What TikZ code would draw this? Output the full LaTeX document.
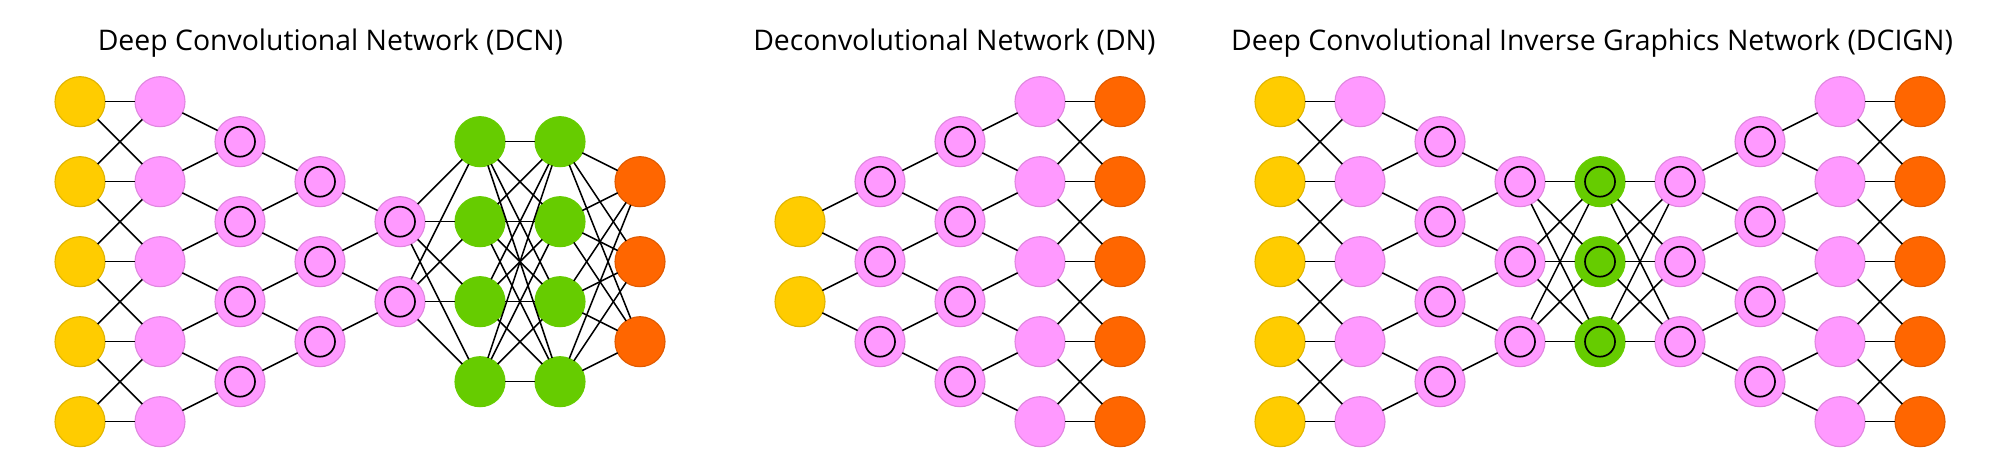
\documentclass[tikz,border=0pt]{standalone}
\usepackage{fontspec}
\setmainfont{Open Sans}
\usetikzlibrary{positioning}
\definecolor{input yellow}{HTML}{FFCC00}
\definecolor{hidden pink}{HTML}{FF99FF}
\definecolor{output orange}{HTML}{FF6600}
\definecolor{dense green}{HTML}{66CC00}
\tikzset{
    % Cells
    cell/.style={circle,inner sep=0pt,outer sep=0pt,minimum size=0.625cm,line width=0.4pt},
    input cell/.style={cell,fill=input yellow,draw=input yellow!88!black},
    hidden cell/.style={cell,fill=hidden pink,draw=hidden pink!88!black},
    output cell/.style={cell,fill=output orange,draw=output orange!88!black},
    dense cell/.style={cell,fill=dense green,draw=dense green},
    kernel/.style={path picture={\draw[draw=black,line width=0.6pt] (path picture bounding box.center) circle[radius=0.1875cm];}},
    conv cell/.style={hidden cell,kernel},
    dense conv cell/.style={dense cell,kernel},
    %
    % Connectors and titles
    link/.style={line width=0.55pt,black},
    title/.style={anchor=base,font=\fontsize{10.1pt}{12pt}\selectfont}
}

\begin{document}
\begin{tikzpicture}
    \useasboundingbox (0,-0.404) rectangle (25,5.271);

    % layers: column / number of cells / kind
    \foreach \col/\n/\kind in {1/5/input cell, 2/5/hidden cell, 3/4/conv cell, 4/3/conv cell,
        5/2/conv cell, 6/4/dense cell, 7/4/dense cell, 8/3/output cell,
        10/2/input cell, 11/3/conv cell, 12/4/conv cell, 13/5/hidden cell, 14/5/output cell,
        16/5/input cell, 17/5/hidden cell, 18/4/conv cell, 19/3/conv cell, 20/3/dense conv cell,
        21/3/conv cell, 22/4/conv cell, 23/5/hidden cell, 24/5/output cell}{
        \foreach \k in {1,...,\n}{
            \node[\kind] (n\col-\k) at (\col,{2+(\n-1)/2-(\k-1)}) {};
        }
    }

    % neighbouring cells of equal layers
    \foreach \a/\b in {1/2, 13/14, 16/17, 23/24}{
        \foreach \i in {1,...,5}
            \draw[link] (n\a-\i) -- (n\b-\i);
        \foreach \i [evaluate=\i as \k using int(\i+1)] in {1,...,4}{
            \draw[link] (n\a-\i) -- (n\b-\k);
            \draw[link] (n\a-\k) -- (n\b-\i);
        }
    }

    % convolution: two cells into one
    \foreach \a/\b/\m in {2/3/4, 3/4/3, 4/5/2, 17/18/4, 18/19/3}{
        \foreach \j [evaluate=\j as \k using int(\j+1)] in {1,...,\m}{
            \draw[link] (n\a-\j) -- (n\b-\j);
            \draw[link] (n\a-\k) -- (n\b-\j);
        }
    }

    % deconvolution: one cell into two
    \foreach \a/\b/\n in {10/11/2, 11/12/3, 12/13/4, 21/22/3, 22/23/4}{
        \foreach \i [evaluate=\i as \k using int(\i+1)] in {1,...,\n}{
            \draw[link] (n\a-\i) -- (n\b-\i);
            \draw[link] (n\a-\i) -- (n\b-\k);
        }
    }

    % fully connected
    \foreach \a/\b/\n/\m in {5/6/2/4, 6/7/4/4, 7/8/4/3, 19/20/3/3, 20/21/3/3}{
        \foreach \i in {1,...,\n}
            \foreach \j in {1,...,\m}
                \draw[link] (n\a-\i) -- (n\b-\j);
    }

    \node[title] (dcn title) at (4.13,4.646) {Deep Convolutional Network (DCN)};
    \node[title] (dn title) at (11.93,4.646) {Deconvolutional Network (DN)};
    \node[title] (dcign title) at (19.9,4.646) {Deep Convolutional Inverse Graphics Network (DCIGN)};
\end{tikzpicture}
\end{document}
